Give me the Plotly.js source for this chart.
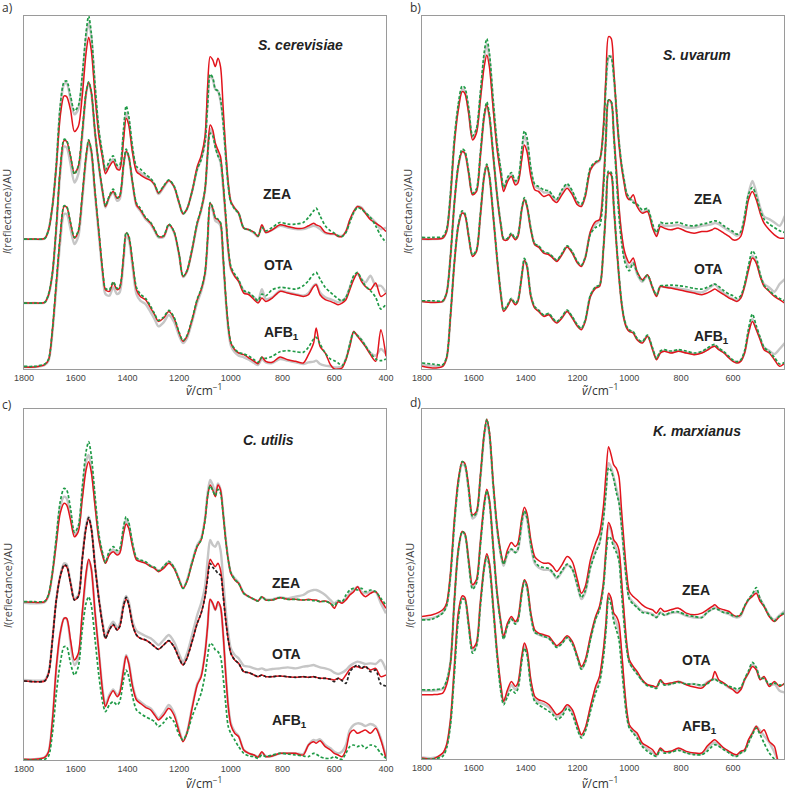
<!DOCTYPE html>
<html><head><meta charset="utf-8">
<script src="https://cdn.plot.ly/plotly-3.0.1.min.js"></script>
<style>body{margin:0;background:#fff}#chart{width:794px;height:795px}</style>
</head><body><div id="chart"></div><script>
const wavenumber = [1800,1760,1720,1705,1690,1675,1660,1645,1635,1620,
1605,1590,1575,1560,1550,1540,1525,1510,1495,1485,
1470,1455,1440,1430,1415,1405,1395,1380,1365,1350,
1330,1310,1295,1280,1260,1240,1220,1200,1185,1170,
1150,1130,1115,1100,1090,1080,1070,1060,1050,1040,
1030,1020,1010,1000,985,970,950,930,910,895,
880,865,840,810,780,750,720,700,680,670,
655,635,615,600,585,570,555,540,525,510,
495,480,460,440,420,400];

const tickValsFull = [1800,1600,1400,1200,1000,800,600,400];
const tickValsShort = [1800,1600,1400,1200,1000,800,600];
const groupLabels = ['ZEA','OTA','AFB<sub>1</sub>'];
const speciesLabels = ['S. cerevisiae','S. uvarum','C. utilis','K. marxianus'];
const panelLetters = ['a)','b)','c)','d)'];

// ---------- a) S. cerevisiae ----------
const a_ZEA_gray = [390,390,392,418,488,610,780,855,858,810,
765,780,865,995,1040,1000,840,708,635,592,
615,630,605,605,705,770,745,655,598,590,
578,568,553,525,545,565,548,498,466,480,
533,600,630,685,800,880,870,840,835,805,
745,645,553,502,482,468,423,418,408,398,
430,410,418,430,425,420,420,425,430,428,
420,408,405,405,400,400,412,445,470,488,
485,470,455,440,420,425];
const a_ZEA_red = [390,390,392,418,488,608,758,820,818,778,
713,728,818,948,996,958,818,698,628,586,
608,623,600,598,688,753,733,648,593,583,
573,566,553,528,548,566,548,498,466,480,
533,608,640,698,848,938,928,908,933,908,
788,658,558,503,483,468,423,418,410,398,
433,410,418,433,428,423,423,430,438,433,
428,410,406,406,398,398,413,448,473,488,
483,468,448,438,428,413];
const a_ZEA_green = [390,390,392,418,490,615,790,862,865,820,
775,790,880,1010,1060,1010,850,715,640,598,
625,640,612,612,720,790,760,665,608,600,
585,572,556,530,550,568,550,500,466,480,
533,600,628,680,790,885,875,840,835,810,
740,640,550,500,480,468,423,418,410,400,
425,415,425,440,435,435,440,455,475,483,
460,430,415,408,400,398,410,440,470,485,
480,470,455,430,400,380];
const a_OTA_gray = [198,198,200,222,285,420,585,668,665,615,
560,585,695,825,860,830,705,605,525,485,
515,530,505,510,610,655,636,556,490,475,
450,435,415,395,396,432,411,342,276,292,
356,435,475,535,640,720,705,670,645,620,
545,450,355,300,280,265,235,225,215,205,
240,210,215,235,230,225,220,228,250,255,
230,215,210,205,200,205,215,245,275,285,
270,260,280,250,250,230];
const a_OTA_red = [198,198,200,223,288,428,598,686,683,638,
588,608,708,828,860,833,708,608,528,488,
518,533,513,518,613,653,638,558,493,478,
453,438,418,398,398,433,413,343,278,293,
358,438,478,538,648,733,718,678,658,638,
558,458,358,303,278,263,228,223,208,198,
213,203,213,233,228,223,218,223,248,253,
223,208,203,198,193,198,208,238,268,288,
263,248,238,258,218,228];
const a_OTA_green = [198,198,200,225,290,430,600,690,686,640,
585,610,710,830,862,835,710,610,530,490,
520,540,515,520,615,660,640,560,498,483,
455,440,420,398,400,435,413,345,278,295,
360,440,480,540,640,708,700,665,640,625,
560,465,365,308,285,268,235,230,215,205,
225,220,238,245,243,240,250,265,285,290,
270,245,230,220,210,205,215,245,280,290,
270,250,235,215,180,195];
const a_AFB_gray = [6,6,12,25,110,245,380,465,465,420,
375,398,505,630,680,650,520,398,278,225,
220,245,225,230,325,398,388,305,225,205,
195,170,150,128,140,162,142,100,78,92,
142,200,232,282,380,490,475,445,440,430,
330,210,120,70,50,40,35,28,18,12,
30,20,18,30,25,20,15,20,22,25,
15,10,8,5,5,8,30,72,110,100,
88,70,48,40,60,45];
const a_AFB_red = [6,6,13,28,118,258,398,488,486,438,
393,413,518,638,686,658,528,408,288,238,
233,258,238,243,338,408,398,318,238,218,
208,183,163,143,153,173,153,108,83,98,
148,208,238,288,388,498,483,453,448,438,
338,218,128,78,58,48,43,33,23,16,
36,23,20,36,28,23,18,43,78,123,
68,48,13,0,0,3,28,68,113,98,
83,68,43,23,118,38];
const a_AFB_green = [8,8,15,30,120,262,400,490,488,440,
395,415,520,640,688,660,530,410,290,242,
238,262,242,247,340,410,400,322,245,225,
212,188,166,146,156,176,156,110,85,100,
150,210,240,290,390,500,485,455,450,440,
340,220,130,80,60,50,45,38,28,20,
35,32,38,52,55,52,50,65,90,95,
75,48,30,25,18,10,30,75,110,100,
88,70,48,30,25,30];

// ---------- b) S. uvarum ----------
const b_ZEA_gray = [390,390,393,415,522,685,785,840,835,775,
695,715,815,930,975,935,795,670,590,540,
570,585,560,565,645,700,680,595,548,543,
530,530,515,507,533,552,530,498,490,520,
600,618,625,718,860,935,940,880,780,682,
612,565,525,512,505,492,470,478,428,402,
435,430,430,432,425,425,430,432,435,438,
435,425,415,408,400,408,455,525,565,530,
485,458,450,440,430,460];
const b_ZEA_red = [390,390,393,413,518,678,778,833,828,768,
688,708,808,908,943,908,778,658,578,533,
563,578,553,558,628,673,653,578,538,533,
518,523,508,500,523,543,523,493,488,518,
598,620,628,728,878,998,993,898,778,678,
608,558,518,508,523,488,468,473,423,398,
428,423,418,423,413,408,413,413,418,423,
418,408,398,388,388,398,443,508,533,508,
468,438,418,403,393,393];
const b_ZEA_green = [395,395,398,420,528,692,795,850,845,785,
700,722,828,950,992,950,805,675,595,545,
575,590,565,570,660,715,695,605,555,548,
538,535,520,510,538,557,535,503,495,525,
605,622,628,715,855,940,935,880,785,685,
615,568,528,515,500,495,478,482,435,410,
440,437,438,440,432,430,435,438,443,445,
442,430,420,413,405,412,460,525,545,520,
478,450,435,425,415,410];
const b_OTA_gray = [203,202,203,228,338,498,608,653,648,590,
525,535,640,758,793,758,640,520,430,390,
390,405,390,400,480,510,490,420,375,368,
350,345,335,325,345,368,350,320,310,335,
410,435,445,555,695,805,800,705,590,478,
398,345,318,305,320,285,262,280,243,220,
248,246,245,242,238,232,230,238,250,255,
242,228,216,210,205,215,250,300,340,322,
282,255,245,232,255,270];
const b_OTA_red = [203,200,203,228,338,498,608,653,648,588,
523,533,638,758,793,758,638,518,428,388,
388,403,388,398,478,508,488,418,373,366,
348,343,333,323,343,366,348,318,308,333,
413,443,448,558,698,808,803,708,598,488,
408,358,333,318,333,293,268,283,243,218,
248,246,243,238,233,228,223,228,236,240,
233,223,213,208,203,213,248,298,333,318,
278,248,233,218,208,198];
const b_OTA_green = [205,205,205,230,340,500,612,660,655,595,
528,540,645,765,802,765,645,522,432,392,
392,408,392,402,482,515,492,422,376,370,
352,347,337,327,347,370,352,322,312,335,
405,425,430,540,690,808,803,700,580,460,
380,330,305,295,318,290,265,282,245,222,
250,250,252,250,247,242,240,245,252,255,
248,235,225,220,212,220,255,310,355,335,
285,252,235,222,212,205];
const b_AFB_gray = [12,10,10,33,160,320,430,470,465,400,
340,355,460,580,612,580,460,330,220,175,
190,210,195,205,280,328,310,220,185,175,
160,165,150,140,155,175,155,130,120,145,
220,245,250,360,480,590,585,490,380,280,
200,150,125,115,110,90,80,100,60,30,
50,55,50,55,50,45,50,58,68,70,
60,50,35,25,20,25,50,110,150,122,
92,65,55,45,60,78];
const b_AFB_red = [8,3,8,33,158,318,428,468,463,398,
338,353,458,578,610,578,458,328,218,173,
188,208,193,203,278,326,308,218,183,173,
158,163,148,138,153,173,153,128,118,143,
218,243,248,358,478,588,583,488,378,278,
198,148,123,113,108,88,78,98,58,28,
48,53,48,53,48,43,48,56,66,68,
58,48,33,23,18,23,48,108,143,118,
88,58,48,28,8,18];
const b_AFB_green = [18,15,13,36,162,322,432,475,468,402,
342,357,462,582,615,582,462,332,222,177,
192,212,197,207,282,332,312,222,187,177,
162,167,152,142,157,177,157,132,122,147,
222,247,252,362,482,595,590,492,382,282,
202,152,127,117,112,92,82,102,62,32,
54,58,54,58,54,48,53,62,72,74,
63,52,37,27,22,27,55,120,165,130,
95,65,52,35,15,20];

// ---------- c) C. utilis ----------
const c_ZEA_gray = [472,470,473,493,560,660,760,790,785,735,
677,695,795,895,915,880,770,665,613,592,
620,632,620,625,690,720,705,645,603,597,
592,582,577,567,580,595,578,542,515,538,
595,645,665,725,800,840,825,800,830,812,
745,665,602,562,545,532,500,490,482,478,
488,482,482,488,485,490,495,505,510,510,
505,495,480,470,478,472,485,500,510,520,
505,500,505,505,470,440];
const c_ZEA_red = [475,473,475,495,560,650,740,770,765,720,
670,685,780,870,895,865,760,660,610,590,
615,625,615,620,680,708,695,640,600,595,
590,580,575,565,575,590,575,540,515,535,
590,640,660,720,790,825,810,790,825,810,
740,660,600,560,540,530,500,490,482,477,
490,480,480,487,482,482,480,482,480,480,
475,477,470,455,475,470,480,495,505,520,
500,490,500,505,480,455];
const c_ZEA_green = [475,475,476,497,565,668,775,815,810,755,
683,702,815,925,955,915,790,675,618,592,
628,640,628,633,700,730,713,650,607,600,
595,582,578,568,580,596,578,540,515,536,
592,642,660,718,790,822,808,793,812,800,
740,660,600,562,542,530,500,490,482,477,
490,480,480,487,482,482,480,480,478,478,
475,476,470,462,478,475,495,510,515,510,
515,505,510,505,485,465];
const c_OTA_gray = [240,238,240,263,362,482,552,590,587,535,
485,495,605,705,730,700,585,485,408,372,
398,415,398,408,470,492,475,415,388,380,
372,365,355,345,360,375,355,318,295,318,
375,435,470,520,600,660,645,640,655,630,
545,450,380,335,315,305,283,280,275,272,
275,270,273,275,278,275,280,282,285,282,
278,275,270,262,258,262,270,282,290,295,
292,288,290,288,300,270];
const c_OTA_red = [237,235,237,260,360,480,550,582,580,530,
480,490,600,695,722,695,580,480,400,365,
390,405,390,400,460,482,465,405,375,365,
360,350,340,332,345,358,340,305,285,305,
355,410,440,490,550,602,590,580,590,570,
500,420,360,320,300,290,265,262,255,250,
255,250,250,252,250,248,250,248,250,248,
245,245,242,240,245,240,255,272,280,280,
275,280,270,275,250,255];
const c_OTA_dark = [237,235,237,260,360,480,550,585,582,530,
480,490,600,697,727,697,580,480,400,365,
390,407,390,400,462,488,467,405,375,365,
360,350,340,332,345,358,340,305,285,305,
355,410,440,490,545,590,578,570,560,555,
495,420,360,320,300,290,265,262,255,250,
255,250,250,252,250,248,250,248,250,248,
245,245,242,235,245,238,230,265,278,285,
275,282,265,270,228,222];
const c_AFB_gray = [2,2,8,25,118,275,378,425,423,350,
285,305,430,555,600,575,440,322,205,165,
195,212,195,205,275,315,293,225,185,175,
163,155,140,125,142,165,142,90,58,82,
158,228,253,322,400,480,468,450,470,458,
380,262,165,110,85,72,30,20,15,10,
22,12,12,20,20,20,18,45,60,58,
62,45,35,25,20,25,45,90,105,110,
108,102,108,100,65,10];
const c_AFB_red = [2,2,8,25,120,280,380,425,425,360,
300,320,440,560,602,575,440,320,200,160,
190,208,190,200,270,312,290,220,180,170,
158,150,135,120,135,155,135,85,55,80,
155,225,250,320,400,482,470,450,475,460,
380,260,160,105,80,70,30,20,15,8,
25,10,12,20,20,20,15,45,55,50,
58,40,30,20,15,10,30,80,90,80,
85,90,80,95,60,5];
const c_AFB_green = [0,0,2,12,80,200,290,340,340,290,
255,280,390,470,490,465,360,250,170,145,
165,175,165,175,240,270,250,190,150,140,
130,122,115,100,112,130,115,75,60,80,
130,170,200,255,310,350,345,330,325,310,
250,170,100,80,60,40,20,12,10,5,
15,10,15,20,18,15,12,10,20,18,
10,5,5,10,5,2,20,40,45,40,
45,35,45,40,20,5];

// ---------- d) K. marxianus ----------
const d_ZEA_gray = [420,423,440,462,552,710,830,885,880,808,
722,735,840,970,1012,975,820,690,610,580,
615,630,620,628,705,742,722,640,588,575,
568,568,558,542,562,582,570,520,480,500,
578,625,650,728,815,888,875,845,812,780,
705,615,535,485,470,458,443,440,435,425,
440,432,438,440,430,425,425,440,450,455,
448,440,435,428,425,430,458,478,492,505,
480,460,432,418,432,445];
const d_ZEA_red = [428,433,448,468,558,718,838,893,888,818,
733,743,848,978,1020,983,828,698,618,588,
628,650,638,648,723,756,738,658,608,596,
588,588,578,563,583,608,593,538,498,518,
598,648,678,758,858,938,913,883,873,848,
748,648,558,503,488,478,463,453,448,438,
453,443,448,453,438,433,438,448,458,463,
453,448,443,433,428,433,458,478,488,498,
473,458,428,413,428,438];
const d_ZEA_green = [418,420,438,460,550,708,830,893,885,810,
728,738,845,975,1020,980,822,692,612,585,
618,630,620,630,712,745,725,645,595,580,
575,572,560,545,565,585,570,520,485,505,
575,620,648,720,800,875,865,840,800,770,
700,610,530,480,465,455,440,438,432,425,
440,432,440,442,432,428,425,440,450,452,
448,440,438,430,428,435,460,480,495,515,
480,460,430,415,430,440];
const d_OTA_gray = [205,205,210,232,292,475,625,680,675,595,
515,532,645,765,805,775,635,495,405,362,
403,423,408,418,500,535,518,433,382,373,
368,363,350,338,348,365,348,305,270,292,
362,422,452,522,622,700,685,650,630,610,
520,422,338,292,272,258,235,222,218,214,
236,224,226,232,225,225,220,230,238,240,
235,226,214,210,205,210,238,260,285,272,
240,245,220,225,205,200];
const d_OTA_red = [193,193,198,223,288,478,628,683,678,598,
523,538,648,768,810,778,638,498,408,368,
408,428,413,423,503,538,523,438,388,378,
373,368,353,340,353,370,353,308,278,298,
368,428,458,528,628,710,693,658,648,628,
538,438,348,298,278,263,238,223,220,216,
238,226,228,233,223,216,213,228,240,263,
238,228,216,208,198,208,238,258,278,268,
238,248,218,233,218,228];
const d_OTA_green = [208,208,213,235,290,475,625,683,675,590,
510,528,640,760,805,772,632,492,400,360,
400,420,405,415,495,535,515,430,380,375,
368,362,348,335,346,365,346,302,270,290,
358,420,448,515,612,668,660,635,620,595,
500,405,330,290,270,255,235,220,216,212,
235,222,225,230,225,225,222,225,238,240,
232,225,218,215,210,215,240,265,290,275,
242,242,225,228,222,225];
const d_AFB_gray = [5,3,14,40,112,270,430,486,482,404,
325,344,464,576,613,584,454,314,208,168,
200,222,208,220,302,342,322,228,180,170,
165,155,140,126,136,158,140,96,68,88,
150,210,240,318,400,493,475,428,410,385,
305,213,138,98,82,70,43,30,20,10,
30,20,22,30,20,15,15,30,46,50,
42,30,20,12,10,20,25,52,78,98,
85,70,50,20,-10,-10];
const d_AFB_red = [3,0,18,43,118,278,438,490,486,408,
333,348,468,578,616,588,458,318,218,173,
208,233,218,228,308,348,328,238,188,178,
173,163,148,133,143,163,148,103,73,93,
158,218,248,328,408,498,483,438,428,408,
328,228,148,103,88,78,48,38,28,13,
33,23,23,33,23,18,18,38,53,58,
48,33,23,16,13,23,28,58,78,98,
78,88,53,38,-20,-20];
const d_AFB_green = [0,0,8,33,103,258,418,480,478,398,
318,338,458,573,608,578,448,308,198,163,
188,208,198,210,293,333,313,218,173,163,
153,143,133,118,128,153,133,88,63,83,
143,198,228,303,388,483,463,413,388,358,
278,198,128,93,78,63,38,23,13,8,
28,18,20,26,18,13,13,23,38,43,
38,28,18,10,8,18,23,48,73,93,
73,48,18,0,-10,-10];

// ---------- assembly ----------
const W = 794, H = 795;
const px = x => x / W, py = y => 1 - y / H;
const panels = [
  {ax:'', groups:[[a_ZEA_gray,a_ZEA_red,a_ZEA_green],[a_OTA_gray,a_OTA_red,a_OTA_green],[a_AFB_gray,a_AFB_red,a_AFB_green]], dot:['#1f9a46','#1f9a46','#1f9a46'],
   xd:[24,386], yd:[16,369], yr:1060, xr:[1800,400], ticks:tickValsFull,
   letter:[0,8], species:[300,45], glab:[[261,194],[262,265],[262,333]], ytitle:[7,212], xtitle:[204,390]},
  {ax:'2', groups:[[b_ZEA_gray,b_ZEA_red,b_ZEA_green],[b_OTA_gray,b_OTA_red,b_OTA_green],[b_AFB_gray,b_AFB_red,b_AFB_green]], dot:['#1f9a46','#1f9a46','#1f9a46'],
   xd:[422,784], yd:[16,369], yr:1060, xr:[1800,403], ticks:tickValsShort,
   letter:[408,8], species:[697,55], glab:[[692,199],[692,269],[692,337]], ytitle:[408,212], xtitle:[600,390]},
  {ax:'3', groups:[[c_ZEA_gray,c_ZEA_red,c_ZEA_green],[c_OTA_gray,c_OTA_red,c_OTA_dark],[c_AFB_gray,c_AFB_red,c_AFB_green]], dot:['#1f9a46','#222222','#1f9a46'],
   xd:[24,386], yd:[409,760], yr:1053, xr:[1800,400], ticks:tickValsFull,
   letter:[0,404], species:[268,440], glab:[[270,583],[270,654],[270,721]], ytitle:[7,586], xtitle:[204,783]},
  {ax:'4', groups:[[d_ZEA_gray,d_ZEA_red,d_ZEA_green],[d_OTA_gray,d_OTA_red,d_OTA_green],[d_AFB_gray,d_AFB_red,d_AFB_green]], dot:['#1f9a46','#1f9a46','#1f9a46'],
   xd:[422,784], yd:[409,759], yr:1051, xr:[1800,403], ticks:tickValsShort,
   letter:[408,402], species:[697,431], glab:[[680,590],[680,660],[680,727]], ytitle:[409,586], xtitle:[600,783]}
];

const traces = [];
const layout = {width:W, height:H, margin:{l:0,r:0,t:0,b:0}, showlegend:false,
  paper_bgcolor:'#fff', plot_bgcolor:'#fff', annotations:[]};

panels.forEach((p, i) => {
  p.groups.forEach((g, gi) => {
    g.forEach(arr => { if (arr.length !== wavenumber.length) throw new Error('length mismatch panel '+i+' group '+gi+': '+arr.length); });
    const xa = 'x'+p.ax, ya = 'y'+p.ax;
    traces.push({x:wavenumber, y:g[0], xaxis:xa, yaxis:ya, mode:'lines', hoverinfo:'skip',
      line:{color:'#c6c6c6', width:2.4, shape:'spline', smoothing:0.8}});
    traces.push({x:wavenumber, y:g[1], xaxis:xa, yaxis:ya, mode:'lines', hoverinfo:'skip',
      line:{color:'#e2141c', width:1.5, shape:'spline', smoothing:0.8}});
    traces.push({x:wavenumber, y:g[2], xaxis:xa, yaxis:ya, mode:'lines', hoverinfo:'skip',
      line:{color:p.dot[gi], width:1.7, dash:'3px,2px', shape:'spline', smoothing:0.8}});
  });
  const xkey = 'xaxis'+p.ax, ykey = 'yaxis'+p.ax;
  layout[xkey] = {domain:[px(p.xd[0]), px(p.xd[1])], range:p.xr, anchor:'y'+p.ax,
    tickvals:p.ticks, ticktext:p.ticks.map(String), ticks:'', showgrid:false, zeroline:false,
    showline:true, mirror:true, linecolor:'#9a9a9a', linewidth:1,
    tickfont:{family:'Liberation Sans, Arial, sans-serif', size:9, color:'#444'}};
  layout[ykey] = {domain:[py(p.yd[1]), py(p.yd[0])], range:[0, p.yr], anchor:'x'+p.ax,
    showticklabels:false, ticks:'', showgrid:false, zeroline:false,
    showline:true, mirror:true, linecolor:'#9a9a9a', linewidth:1};
  const A = layout.annotations;
  A.push({xref:'paper', yref:'paper', x:px(p.letter[0]), y:py(p.letter[1]), xanchor:'left', yanchor:'middle',
    text:panelLetters[i], showarrow:false, font:{family:'Open Sans, sans-serif', size:12, color:'#333'}});
  A.push({xref:'paper', yref:'paper', x:px(p.species[0]), y:py(p.species[1]), xanchor:'center', yanchor:'middle',
    text:'<b><i>'+speciesLabels[i]+'</i></b>', showarrow:false, font:{family:'Liberation Sans, Arial, sans-serif', size:14, color:'#222'}});
  p.glab.forEach((pos, gi) => {
    A.push({xref:'paper', yref:'paper', x:px(pos[0]), y:py(pos[1]), xanchor:'left', yanchor:'middle',
      text:'<b>'+groupLabels[gi]+'</b>', showarrow:false, font:{family:'Liberation Sans, Arial, sans-serif', size:14, color:'#222'}});
  });
  A.push({xref:'paper', yref:'paper', x:px(p.ytitle[0]), y:py(p.ytitle[1]), xanchor:'center', yanchor:'middle', textangle:-90,
    text:'<i>I</i>(reflectance)/AU', showarrow:false, font:{family:'Open Sans, sans-serif', size:11, color:'#444'}});
  A.push({xref:'paper', yref:'paper', x:px(p.xtitle[0]), y:py(p.xtitle[1]), xanchor:'center', yanchor:'middle',
    text:'<i>ṽ</i>/cm<sup>−1</sup>', showarrow:false, font:{family:'Open Sans, sans-serif', size:12, color:'#333'}});
});

Plotly.newPlot('chart', traces, layout, {staticPlot:true, displayModeBar:false});
</script></body></html>
